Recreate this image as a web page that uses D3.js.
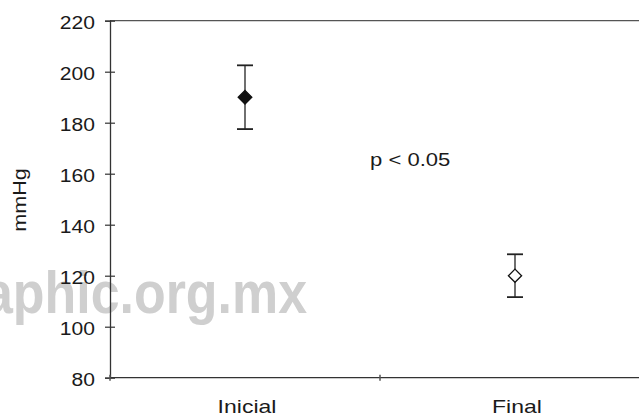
<!DOCTYPE html>
<html>
<head>
<meta charset="utf-8">
<script src="https://cdn.jsdelivr.net/npm/d3@7"></script>
<style>
  html, body { margin: 0; padding: 0; background: #fff; }
  svg { display: block; }
  text { font-family: "Liberation Sans", Arial, sans-serif; fill: #1a1a1a; }
</style>
</head>
<body>
<svg id="chart" width="639" height="419"></svg>
<script>
// Blood pressure before and after treatment (mean with error bars)
const categories = ["Inicial", "Final"];
const means = [190, 120];
const errors = [12.5, 8.4];
const filled = [true, false];
const yTicks = [80, 100, 120, 140, 160, 180, 200, 220];
const yLabel = "mmHg";
const note = "p < 0.05";
const watermark = "aphic.org.mx";

const svg = d3.select("#chart");
const plotLeft = 110, plotRight = 650, plotTop = 20.7, plotBottom = 377.7;

const x = d3.scaleBand().domain(categories).range([plotLeft, plotRight]);
const y = d3.scaleLinear().domain([80, 220]).range([plotBottom, plotTop]);

// faint watermark sits behind everything
svg.append("text")
  .attr("x", -16).attr("y", 313)
  .attr("font-size", 59).attr("font-weight", "bold")
  .style("fill", "#cfcfcf")
  .attr("textLength", 323).attr("lengthAdjust", "spacingAndGlyphs")
  .text(watermark);

const axisColor = "#333";

// frame: top and right edges
svg.append("line").attr("x1", plotLeft).attr("x2", plotRight).attr("y1", plotTop).attr("y2", plotTop)
  .attr("stroke", "#555").attr("stroke-width", 1.3);
svg.append("line").attr("x1", plotRight).attr("x2", plotRight).attr("y1", plotTop).attr("y2", plotBottom)
  .attr("stroke", "#555").attr("stroke-width", 1.3);

// y axis with crossing ticks
const yAxis = svg.append("g").attr("transform", `translate(${plotLeft},0)`)
  .call(d3.axisLeft(y).tickValues(yTicks).tickSize(5).tickPadding(10).tickFormat(d3.format("d")));
yAxis.select(".domain").attr("stroke", axisColor).attr("stroke-width", 1.3);
yAxis.selectAll(".tick line").attr("stroke", axisColor).attr("stroke-width", 1.2);
yAxis.selectAll(".tick").append("line").attr("x1", 0).attr("x2", 5)
  .attr("stroke", axisColor).attr("stroke-width", 1.2);
yAxis.selectAll(".tick text")
  .attr("font-size", 18).attr("dy", 8).attr("class", "stretch").attr("data-f", 1.17)
  .style("fill", "#1a1a1a");

// x axis along the bottom, ticks at band edges
const xAxis = svg.append("g").attr("transform", `translate(0,${plotBottom})`);
xAxis.append("line").attr("x1", plotLeft).attr("x2", plotRight)
  .attr("stroke", axisColor).attr("stroke-width", 1.3);
const edges = [plotLeft, ...categories.slice(1).map(c => x(c)), plotRight];
xAxis.selectAll(".edge").data(edges).join("line")
  .attr("x1", d => d).attr("x2", d => d).attr("y1", -3).attr("y2", 3)
  .attr("stroke", "#555").attr("stroke-width", 1.5);
xAxis.selectAll(".cat").data(categories).join("text")
  .attr("x", d => x(d) + x.bandwidth() / 2 + 2)
  .attr("y", 413 - plotBottom)
  .attr("text-anchor", "middle").attr("font-size", 19)
  .attr("class", "stretch").attr("data-f", 1.21)
  .text(d => d);

// y axis title
svg.append("text")
  .attr("transform", "translate(26,200) rotate(-90)")
  .attr("text-anchor", "middle").attr("font-size", 18)
  .attr("class", "stretch").attr("data-f", 1.2)
  .text(yLabel);

// significance note
svg.append("text")
  .attr("x", 370).attr("y", 166)
  .attr("font-size", 19)
  .attr("class", "stretch").attr("data-f", 1.16)
  .text(note);

// error bars and diamond markers
const pts = categories.map((c, i) => ({ c, m: means[i], e: errors[i], f: filled[i] }));
const g = svg.append("g");
const cx = d => x(d.c) + x.bandwidth() / 2;
g.selectAll(".whisker").data(pts).join("line")
  .attr("x1", cx).attr("x2", cx)
  .attr("y1", d => y(d.m + d.e)).attr("y2", d => y(d.m - d.e))
  .attr("stroke", "#222").attr("stroke-width", 1.3);
g.selectAll(".capHi").data(pts).join("line")
  .attr("x1", d => cx(d) - 8).attr("x2", d => cx(d) + 8)
  .attr("y1", d => y(d.m + d.e)).attr("y2", d => y(d.m + d.e))
  .attr("stroke", "#222").attr("stroke-width", 1.8);
g.selectAll(".capLo").data(pts).join("line")
  .attr("x1", d => cx(d) - 8).attr("x2", d => cx(d) + 8)
  .attr("y1", d => y(d.m - d.e)).attr("y2", d => y(d.m - d.e))
  .attr("stroke", "#222").attr("stroke-width", 1.8);
g.selectAll(".marker").data(pts).join("path")
  .attr("d", d => {
    const px = cx(d), py = y(d.m), r = d.f ? 6.8 : 6.6;
    return `M${px},${py - r}L${px + r},${py}L${px},${py + r}L${px - r},${py}Z`;
  })
  .attr("fill", d => d.f ? "#111" : "#fff")
  .attr("stroke", "#111").attr("stroke-width", 1.3);

// widen the text glyphs to the chart's slightly broad lettering
svg.selectAll("text.stretch").each(function () {
  const f = +this.getAttribute("data-f");
  const w = this.getComputedTextLength();
  this.setAttribute("textLength", w * f);
  this.setAttribute("lengthAdjust", "spacingAndGlyphs");
});
</script>
</body>
</html>
